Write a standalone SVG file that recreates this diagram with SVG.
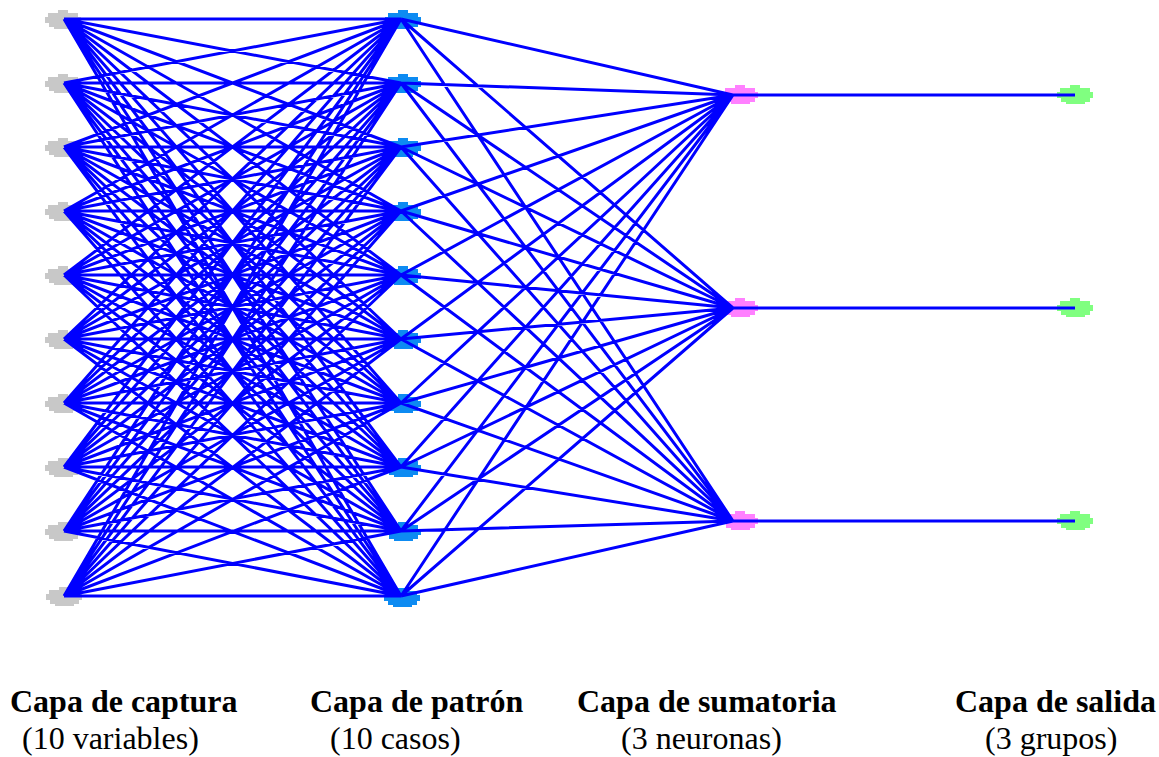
<svg xmlns="http://www.w3.org/2000/svg" xmlns:xlink="http://www.w3.org/1999/xlink" width="1159" height="757" viewBox="0 0 1159 757">
<style>
.edge{stroke:#0000ff;stroke-width:3;fill:none}
.in{fill:#c8c8c8}
.pat{fill:#0d8bf2}
.sum{fill:#ff80ff}
.out{fill:#80ff80}
.t1{font-family:"Liberation Serif",serif;font-weight:bold;font-size:32px;fill:#000}
.t2{font-family:"Liberation Serif",serif;font-size:32px;fill:#000}
</style>
<defs>
<polygon id="blob" points="-5,-10 5,-10 5,-7 15,-7 15,-3 18,-3 18,3 15,3 15,7 10,7 10,9 -9,9 -9,7 -14,7 -14,3 -18,3 -18,-3 -15,-3 -15,-7 -5,-7"/>
</defs>
<rect width="1159" height="757" fill="#fff"/>
<g id="input-layer">
<g id="in1"><use xlink:href="#blob" class="in" x="63" y="20"/></g>
<g id="in2"><use xlink:href="#blob" class="in" x="63" y="84"/></g>
<g id="in3"><use xlink:href="#blob" class="in" x="63" y="148"/></g>
<g id="in4"><use xlink:href="#blob" class="in" x="63" y="212"/></g>
<g id="in5"><use xlink:href="#blob" class="in" x="63" y="276"/></g>
<g id="in6"><use xlink:href="#blob" class="in" x="63" y="340"/></g>
<g id="in7"><use xlink:href="#blob" class="in" x="63" y="404"/></g>
<g id="in8"><use xlink:href="#blob" class="in" x="63" y="468"/></g>
<g id="in9"><use xlink:href="#blob" class="in" x="63" y="532"/></g>
<g id="in10"><use xlink:href="#blob" class="in" x="64" y="597"/></g>
</g>
<g id="pattern-layer">
<g id="p1"><use xlink:href="#blob" class="pat" x="403" y="20"/></g>
<g id="p2"><use xlink:href="#blob" class="pat" x="403" y="84"/></g>
<g id="p3"><use xlink:href="#blob" class="pat" x="403" y="148"/></g>
<g id="p4"><use xlink:href="#blob" class="pat" x="403" y="212"/></g>
<g id="p5"><use xlink:href="#blob" class="pat" x="403" y="276"/></g>
<g id="p6"><use xlink:href="#blob" class="pat" x="403" y="340"/></g>
<g id="p7"><use xlink:href="#blob" class="pat" x="403" y="404"/></g>
<g id="p8"><use xlink:href="#blob" class="pat" x="403" y="468"/></g>
<g id="p9"><use xlink:href="#blob" class="pat" x="403" y="532"/></g>
<g id="p10"><use xlink:href="#blob" class="pat" x="402" y="598"/></g>
</g>
<g id="summation-layer">
<g id="s1"><use xlink:href="#blob" class="sum" x="740" y="95"/></g>
<g id="s2"><use xlink:href="#blob" class="sum" x="740" y="308"/></g>
<g id="s3"><use xlink:href="#blob" class="sum" x="740" y="521"/></g>
</g>
<g id="output-layer">
<g id="o1"><use xlink:href="#blob" class="out" x="1075" y="95"/></g>
<g id="o2"><use xlink:href="#blob" class="out" x="1075" y="308"/></g>
<g id="o3"><use xlink:href="#blob" class="out" x="1075" y="521"/></g>
</g>
<g id="connectors" class="edge">
<path d="M64,19L401,19M64,19L401,83M64,19L401,147M64,19L401,211M64,19L401,275M64,19L401,339M64,19L401,403M64,19L401,467M64,19L401,531M64,19L401,596
M64,83L401,19M64,83L401,83M64,83L401,147M64,83L401,211M64,83L401,275M64,83L401,339M64,83L401,403M64,83L401,467M64,83L401,531M64,83L401,596
M64,147L401,19M64,147L401,83M64,147L401,147M64,147L401,211M64,147L401,275M64,147L401,339M64,147L401,403M64,147L401,467M64,147L401,531M64,147L401,596
M64,211L401,19M64,211L401,83M64,211L401,147M64,211L401,211M64,211L401,275M64,211L401,339M64,211L401,403M64,211L401,467M64,211L401,531M64,211L401,596
M64,275L401,19M64,275L401,83M64,275L401,147M64,275L401,211M64,275L401,275M64,275L401,339M64,275L401,403M64,275L401,467M64,275L401,531M64,275L401,596
M64,339L401,19M64,339L401,83M64,339L401,147M64,339L401,211M64,339L401,275M64,339L401,339M64,339L401,403M64,339L401,467M64,339L401,531M64,339L401,596
M64,403L401,19M64,403L401,83M64,403L401,147M64,403L401,211M64,403L401,275M64,403L401,339M64,403L401,403M64,403L401,467M64,403L401,531M64,403L401,596
M64,467L401,19M64,467L401,83M64,467L401,147M64,467L401,211M64,467L401,275M64,467L401,339M64,467L401,403M64,467L401,467M64,467L401,531M64,467L401,596
M64,531L401,19M64,531L401,83M64,531L401,147M64,531L401,211M64,531L401,275M64,531L401,339M64,531L401,403M64,531L401,467M64,531L401,531M64,531L401,596
M64,596L401,19M64,596L401,83M64,596L401,147M64,596L401,211M64,596L401,275M64,596L401,339M64,596L401,403M64,596L401,467M64,596L401,531M64,596L401,596
M401,19L733,95M401,83L733,95M401,147L733,95M401,211L733,95M401,275L733,95M401,339L733,95M401,403L733,95M401,467L733,95M401,531L733,95M401,596L733,95
M401,19L733,308M401,83L733,308M401,147L733,308M401,211L733,308M401,275L733,308M401,339L733,308M401,403L733,308M401,467L733,308M401,531L733,308M401,596L733,308
M401,19L733,521M401,83L733,521M401,147L733,521M401,211L733,521M401,275L733,521M401,339L733,521M401,403L733,521M401,467L733,521M401,531L733,521M401,596L733,521
M733,95L1075,95M733,308L1075,308M733,521L1075,521"/>
</g>
<g id="labels">
<text class="t1" x="10" y="712">Capa de captura</text>
<text class="t2" x="22" y="749">(10 variables)</text>
<text class="t1" x="310" y="712">Capa de patrón</text>
<text class="t2" x="330" y="749">(10 casos)</text>
<text class="t1" x="577" y="712">Capa de sumatoria</text>
<text class="t2" x="621" y="749">(3 neuronas)</text>
<text class="t1" x="955" y="712">Capa de salida</text>
<text class="t2" x="985" y="749">(3 grupos)</text>
</g>
</svg>
